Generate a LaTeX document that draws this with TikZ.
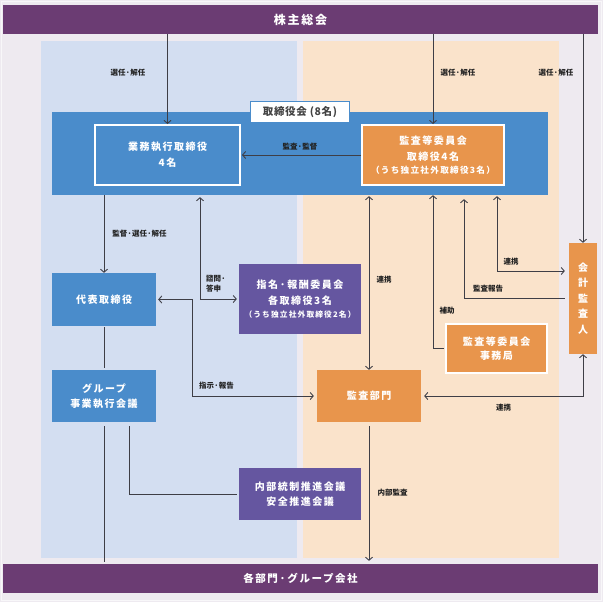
\documentclass[tikz,border=0pt]{standalone}
\usepackage{fontspec}
\setmainfont{Noto Sans CJK JP}
\newfontfamily\bx[LetterSpace=15]{Noto Sans CJK JP}
\newfontfamily\bxs[LetterSpace=6]{Noto Sans CJK JP}
\usetikzlibrary{arrows.meta}
\definecolor{cbg}{HTML}{EEEAF0}
\definecolor{cbar}{HTML}{6B3C73}
\definecolor{cleft}{HTML}{D3DEF1}
\definecolor{cright}{HTML}{FAE3CB}
\definecolor{cblue}{HTML}{4A8CCB}
\definecolor{corange}{HTML}{E8954C}
\definecolor{cpurple}{HTML}{6556A0}
\definecolor{cline}{HTML}{3E3E46}
\definecolor{ctext}{HTML}{222222}
\tikzset{
  boxtxt/.style={inner sep=0pt, align=center, text=white, font=\bx\bfseries\fontsize{10}{16}\selectfont},
  barbox/.style={boxtxt, fill=cbar, minimum width=595pt, minimum height=29pt},
  bluebox/.style={boxtxt, fill=cblue},
  orangebox/.style={boxtxt, fill=corange},
  purplebox/.style={boxtxt, fill=cpurple},
  lbl/.style={inner sep=0pt, text=ctext, font=\bfseries\fontsize{7.5}{10}\selectfont},
  conn/.style={draw=cline, line width=0.9pt},
  arr/.style={conn, -{Straight Barb[length=3pt,width=7pt]}},
  arrboth/.style={conn, {Straight Barb[length=3pt,width=7pt]}-{Straight Barb[length=3pt,width=7pt]}},
}
\begin{document}
\begin{tikzpicture}[x=1pt,y=-1pt]
\useasboundingbox (0,0) rectangle (603,602);
\fill[cbg] (0,0) rectangle (603,602);
\draw[white!60!cbg, line width=0.8pt] (1.5,1.5) rectangle (601.5,600.5);
% panels
\fill[cleft] (41,41) rectangle (297,558);
\fill[cright] (303,41) rectangle (559,558);
% bars
\node[barbox, font=\bx\bfseries\fontsize{12}{14}\selectfont] (top) at (300.5,19.5) {株主総会};
\node[barbox, font=\bx\bfseries\fontsize{10.5}{14}\selectfont] (bottom) at (300.5,578.5) {各部門·グループ会社};
% board
\node[bluebox, minimum width=496pt, minimum height=83pt] (board) at (300,153.5) {};
\node[fill=white, draw=cblue, line width=1.2pt, inner sep=0pt, minimum width=99pt, minimum height=21pt,
      text=ctext!85!white, font=\bxs\bfseries\fontsize{10.5}{12}\selectfont] (boardlbl) at (300,112) {取締役会 (8名)};
\node[bluebox, draw=white, line width=2pt, minimum width=145pt, minimum height=60pt] (exec) at (167.5,155)
  {業務執行取締役\\4名};
\node[orangebox, draw=white, line width=2pt, minimum width=142pt, minimum height=60pt] (audit) at (433,155)
  {監査等委員会\\取締役4名\\[-3pt]{\fontsize{8.6}{10}\selectfont （うち独立社外取締役3名）}};
% other boxes
\node[bluebox, minimum width=104pt, minimum height=53pt] (daihyo) at (104,299.5) {代表取締役};
\node[purplebox, minimum width=122pt, minimum height=70pt] (shimei) at (300,299)
  {指名·報酬委員会\\各取締役3名\\[-3pt]{\fontsize{7.7}{10}\selectfont （うち独立社外取締役2名）}};
\node[bluebox, minimum width=104pt, minimum height=52pt, font=\bx\bfseries\fontsize{10}{15}\selectfont] (group) at (104,396) {グループ\\事業執行会議};
\node[purplebox, minimum width=122pt, minimum height=52pt, font=\bx\bfseries\fontsize{10}{15}\selectfont] (naibu) at (300,494) {内部統制推進会議\\安全推進会議};
\node[orangebox, minimum width=104pt, minimum height=52pt] (kansa) at (369,396) {監査部門};
\node[orangebox, draw=white, line width=2pt, minimum width=101pt, minimum height=49pt, font=\bx\bfseries\fontsize{10}{14.5}\selectfont] (jimu) at (496.5,348.5) {監査等委員会\\事務局};
\node[orangebox, minimum width=28pt, minimum height=111pt, font=\bfseries\fontsize{10}{15.5}\selectfont] (kaikei) at (583,298.5) {会\\計\\監\\査\\人};
% helper coordinates
\coordinate (xA) at (200,0);
\coordinate (xB) at (192,0);
\coordinate (xE) at (464,0);
\coordinate (xF) at (497,0);
\coordinate (yF) at (0,271);
\coordinate (xG) at (129,0);
% connectors
\draw[arr] (top.south -| exec.north) -- (exec.north);
\draw[arr] (top.south -| audit.north) -- (audit.north);
\draw[arr] (top.south -| kaikei.north) -- (kaikei.north);
\draw[arr, shorten >=1pt] (audit.west) -- (exec.east);
\draw[arr] (board.south -| daihyo.north) -- (daihyo.north);
\draw[conn, shorten <=1pt, shorten >=2pt] (daihyo.south) -- (group.north);
\draw[conn, shorten <=4pt, shorten >=2pt] (group.south) -- (bottom.north -| group.south);
\draw[arrboth, shorten <=2pt, shorten >=2pt] (board.south -| xA) |- (shimei.west);
\draw[arrboth, shorten <=2pt, shorten >=3pt] (daihyo.east) -- (daihyo.east -| xB) |- (kansa.west);
\draw[arrboth, shorten <=1pt] (board.south -| kansa.north) -- (kansa.north);
\draw[arr, shorten <=1pt] (jimu.west) -| (board.south -| audit.south);
\draw[arr, shorten <=4pt, shorten >=4pt] (kaikei.west) -| (board.south -| xE);
\draw[arrboth, shorten <=1pt, shorten >=4pt] (board.south -| xF) |- (kaikei.west |- yF);
\draw[arrboth, shorten >=3pt] (kaikei.south) |- (kansa.east);
\draw[arr, shorten <=4pt, shorten >=3pt] (kansa.south) -- (bottom.north -| kansa.south);
\draw[conn, shorten <=4pt, shorten >=2pt] (group.south -| xG) |- (naibu.west);
% labels
\node[lbl] (l1) at (128,73) {選任·解任};
\node[lbl] (l2) at (458,73) {選任·解任};
\node[lbl] (l3) at (556,73) {選任·解任};
\node[lbl] (l4) at (300,147) {監査·監督};
\node[lbl] (l5) at (139.5,234) {監督·選任·解任};
\node[lbl, anchor=west, align=left] (l6) at (206,284) {諮問·\\答申};
\node[lbl] (l7) at (216.5,386) {指示·報告};
\node[lbl] (l8) at (384,280) {連携};
\node[lbl] (l9) at (447,311) {補助};
\node[lbl] (l10) at (488,289) {監査報告};
\node[lbl] (l11) at (511,262) {連携};
\node[lbl] (l12) at (503.5,408) {連携};
\node[lbl] (l13) at (392.5,493) {内部監査};
\end{tikzpicture}
\end{document}
